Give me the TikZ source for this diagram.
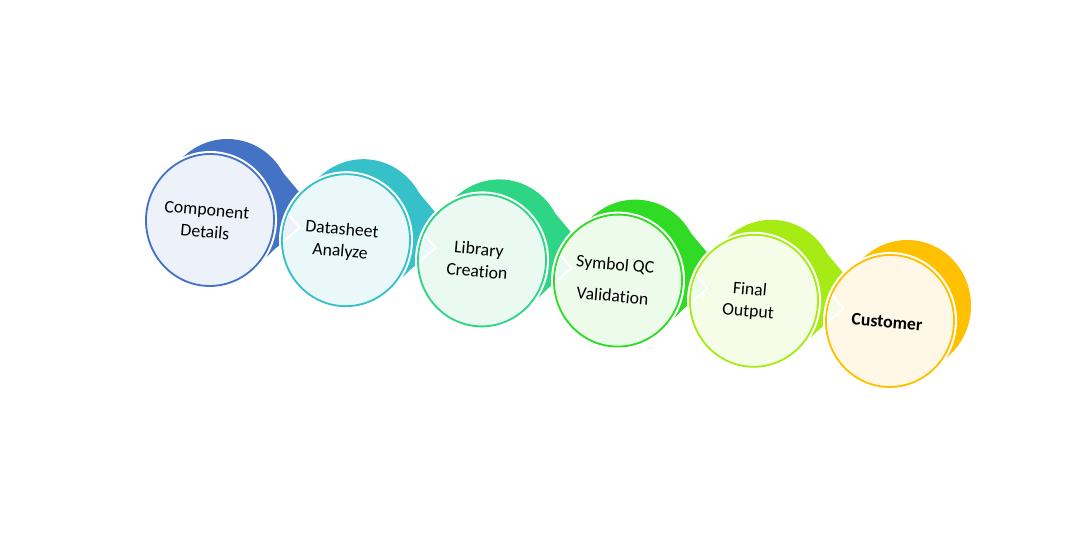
\documentclass[tikz,border=0pt]{standalone}
\usepackage{fontspec}
\setmainfont{Carlito}[Ligatures={NoCommon,NoRequired,NoContextual}]
\definecolor{sA}{HTML}{4472C4}\definecolor{lA}{HTML}{EDF1FA}
\definecolor{sB}{HTML}{36C1CA}\definecolor{lB}{HTML}{EAF8F9}
\definecolor{sC}{HTML}{2DD584}\definecolor{lC}{HTML}{EAF9F1}
\definecolor{sD}{HTML}{2FDB25}\definecolor{lD}{HTML}{EDFBEA}
\definecolor{sE}{HTML}{A6EB14}\definecolor{lE}{HTML}{F5FDE9}
\definecolor{sF}{HTML}{FFC000}\definecolor{lF}{HTML}{FFF8E6}
\newcommand\mysweep[4]{% cx cy colour arrow(1/0)
  \foreach \t in {0,0.1,0.2,0.3,0.4,0.5,0.6,0.7,0.8,0.9,1}{
    \fill[#3, shift={(#1+17*\t,#2+15*\t)}, rotate=-5] (0,0) ellipse [x radius=64, y radius=66];
    \ifnum#4=1
      \fill[#3, shift={(#1+17*\t,#2+15*\t)}, rotate=-5] (48,42) -- (90,0) -- (48,-42) -- cycle;
    \fi
  }}
\newcommand\myfront[4]{% cx cy solid light
  \fill[white, shift={(#1,#2)}, rotate=-5] (0,0) ellipse [x radius=67, y radius=69];
  \filldraw[fill=#4, draw=#3, line width=1.3pt, shift={(#1,#2)}, rotate=-5] (0,0) ellipse [x radius=64, y radius=66];}
\newcommand\mychev[5]{% cx cy light nextcx nextcy
  \begin{scope}
    \clip[shift={(#4,#5)}, rotate=-5] (0,0) ellipse [x radius=63, y radius=65];
    \filldraw[fill=#3, draw=white, line width=1.5pt, shift={(#1,#2)}, rotate=-5] (48,42) -- (90,0) -- (48,-42);
  \end{scope}}
\begin{document}
\begin{tikzpicture}[x=0.025cm,y=0.025cm,
  lbl/.style={align=center, font=\fontsize{12.6}{15.6}\selectfont, rotate=-5, inner sep=0pt, text=black}]
\useasboundingbox (0,0) rectangle (1080,553);
\mysweep{210}{333}{sA}{1}
\myfront{210}{333}{sA}{lA}
\mysweep{346}{312.8}{sB}{1}
\myfront{346}{312.8}{sB}{lB}
\mychev{210}{333}{lA}{346}{312.8}
\mysweep{482}{292.6}{sC}{1}
\myfront{482}{292.6}{sC}{lC}
\mychev{346}{312.8}{lB}{482}{292.6}
\mysweep{618}{272.4}{sD}{1}
\myfront{618}{272.4}{sD}{lD}
\mychev{482}{292.6}{lC}{618}{272.4}
\mysweep{754}{252.2}{sE}{1}
\myfront{754}{252.2}{sE}{lE}
\mychev{618}{272.4}{lD}{754}{252.2}
\mysweep{890}{232}{sF}{0}
\myfront{890}{232}{sF}{lF}
\mychev{754}{252.2}{lE}{890}{232}
\node[lbl] (t1) at (206,332) {Component\\Details};
\node[lbl] (t2) at (341,312) {Datasheet\\Analyze};
\node[lbl] (t3) at (478,293) {Library\\Creation};
\node[lbl] (t4) at (614,273) {Symbol QC\\[7pt]Validation};
\node[lbl] (t5) at (749,252) {Final\\Output};
\node[lbl] (t6) at (887,231) {\bfseries Customer};
\end{tikzpicture}
\end{document}
